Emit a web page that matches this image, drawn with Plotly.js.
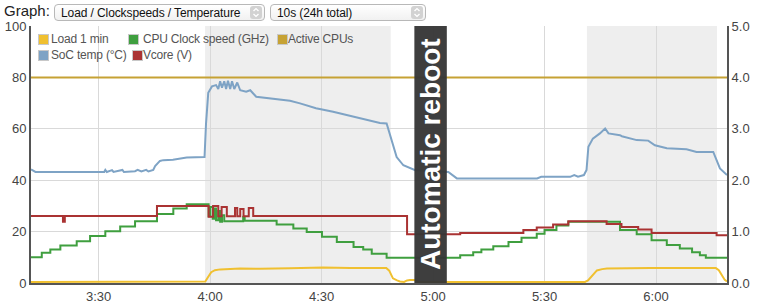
<!DOCTYPE html>
<html><head><meta charset="utf-8">
<script src="https://cdn.plot.ly/plotly-3.0.1.min.js"></script>
<style>
html,body{margin:0;padding:0;background:#fff;}
#wrap{position:relative;width:757px;height:305px;overflow:hidden;font-family:"Liberation Sans",Arial,sans-serif;}
#chart{position:absolute;left:0;top:0;width:757px;height:305px;}
.hdr-lbl{position:absolute;left:4px;top:2px;font-size:15px;color:#222;}
.sel{position:absolute;top:4px;height:17px;border:1px solid #b8b8b8;border-radius:4px;background:linear-gradient(#ffffff,#f1f1f1);font-size:12px;letter-spacing:-0.1px;line-height:16px;color:#111;padding-left:6px;box-sizing:border-box;white-space:nowrap;}
.sel svg{position:absolute;right:2px;top:1px;}
.lg-sq{position:absolute;width:9px;height:9px;border:1px solid #c8c8c8;}
.lg-tx{position:absolute;font-size:12px;letter-spacing:-0.2px;color:#545454;white-space:nowrap;line-height:14px;}
</style></head>
<body>
<div id="wrap">
  <div id="chart"></div>
  <div class="hdr-lbl">Graph:</div>
  <div class="sel" id="sel1" style="left:54px;width:211px;"></div>
  <div class="sel" id="sel2" style="left:270px;width:156px;"></div>
  <div id="legend"></div>
</div>
<script>
// ---------- data (time in minutes after midnight) ----------
const seriesNames  = ["Load 1 min", "CPU Clock speed (GHz)", "Active CPUs", "SoC temp (°C)", "Vcore (V)"];
const seriesColors = ["#f0c030", "#3f9f3f", "#c6a234", "#7ea3c5", "#aa3333"];

const loadTime = [191.8,237.3,238.7,239.5,240.3,241.3,242.7,248.1,253.5,261.5,270.4,277.7,285.7,287.4,288.2,289.2,290.3,291.1,292.2,293.0,293.8,294.9,296.0,340.9,341.7,342.8,344.1,345.5,346.8,358.4,371.8,376.1,376.9,377.7,378.5,379.1];
const loadVal  = [0.02,0.02,0.03,0.12,0.21,0.25,0.265,0.28,0.275,0.285,0.30,0.29,0.30,0.29,0.24,0.09,0.05,0.03,0.02,0.05,0.06,0.06,0.02,0.02,0.05,0.15,0.245,0.27,0.28,0.29,0.29,0.29,0.25,0.15,0.06,0.03];

const clockTime = [191.8,194.7,197.0,199.7,204.1,207.7,211.8,215.8,219.8,225.7,230.1,233.7,239.6,240.0,240.7,241.1,241.6,242.2,242.7,243.2,243.8,248.9,249.3,257.9,262.4,266.0,270.1,274.1,278.6,281.2,283.5,287.5,307.3,310.8,313.0,316.2,320.3,323.8,327.9,330.0,333.2,336.4,350.3,354.8,358.8,362.9,366.4,369.7,371.8,373.4,379.1];
const clockVal  = [0.50,0.59,0.65,0.73,0.81,0.915,1.007,1.10,1.20,1.34,1.45,1.53,1.30,1.48,1.25,1.45,1.22,1.40,1.19,1.32,1.20,1.29,1.21,1.14,1.06,0.99,0.90,0.80,0.70,0.65,0.57,0.49,0.54,0.60,0.65,0.715,0.80,0.88,0.96,1.03,1.12,1.19,1.03,0.95,0.83,0.74,0.67,0.60,0.54,0.49,0.49];

const activeTime = [191.8,379.1];
const activeVal  = [4,4];

const tempTime = [191.8,193.0,211.5,211.8,212.2,213.6,214.0,216.4,216.8,219.8,220.5,221.5,222.8,223.4,224.7,225.2,226.5,227.4,230.0,233.7,238.5,238.9,239.5,240.5,241.6,242.2,242.7,243.2,243.8,244.3,244.8,245.4,245.9,246.5,247.3,248.1,249.7,250.8,252.4,257.8,261.5,264.2,268.5,273.1,277.7,282.0,285.7,287.5,288.4,290.2,292.0,293.8,295.2,304.1,306.4,328.0,329.1,336.9,338.0,339.0,340.6,341.3,341.8,343.0,344.9,346.3,347.2,350.3,350.8,354.8,357.9,359.7,362.9,368.2,370.9,375.4,376.3,377.2,379.1];
const tempVal  = [44.2,43.2,43.2,44.0,43.2,43.9,43.2,44.0,43.2,43.5,44.0,43.4,44.0,43.4,44.0,45.5,47.5,47.8,48.0,48.8,49.0,62.0,74.0,76.5,77.0,75.5,78.5,76.0,78.5,75.5,78.7,75.5,78.5,75.5,78.0,75.0,74.4,75.0,72.5,71.4,70.9,69.9,68.0,66.6,65.0,63.4,62.3,62.1,58.0,49.0,45.8,44.6,43.9,43.2,40.7,40.7,41.3,41.3,42.0,41.4,42.0,44.0,53.0,56.2,58.2,60.1,58.2,57.5,57.1,55.6,55.4,53.6,52.4,52.0,51.0,51.0,47.8,44.6,42.0];

const vcoreTime = [191.8,200.4,200.9,225.7,239.6,240.8,242.2,243.1,244.5,246.7,247.3,248.1,249.0,250.4,251.6,293.0,307.3,324.3,327.9,332.3,336.4,346.7,350.7,355.2,358.8,376.3,379.1];
const vcoreVal  = [1.305,1.19,1.305,1.50,1.29,1.50,1.30,1.48,1.30,1.46,1.30,1.44,1.30,1.46,1.305,0.95,0.975,1.03,1.08,1.14,1.20,1.15,1.09,1.04,0.975,0.93,0.93];

// highlighted periods and reboot window (minutes)
const shadeStart = [238.65, 341.4];
const shadeEnd   = [288.6, 376.4];
const rebootStart = 294.97, rebootEnd = 303.7;
const rebootLabel = "Automatic reboot";

const axisStart = 191.8, axisEnd = 379.1, firstTick = 210;
const headerOptions = ["Load / Clockspeeds / Temperature", "10s (24h total)"];

// ---------- helpers ----------
function pad(n){return (n<10?"0":"")+n;}
function toDate(m){
  const s = Math.round(m*60);
  const h = Math.floor(s/3600), mi = Math.floor((s%3600)/60), se = s%60;
  return "2016-05-01 " + pad(h)+":"+pad(mi)+":"+pad(se);
}
const D = a => a.map(toDate);

// ---------- header ----------
const arrowSvg = '<svg width="12" height="13" viewBox="0 0 12 13"><rect x="0" y="0" width="12" height="13" rx="3" fill="#d2d2d2"/><path d="M3.5 5 L6 2.6 L8.5 5" stroke="#fff" stroke-width="1.4" fill="none"/><path d="M3.5 8 L6 10.4 L8.5 8" stroke="#fff" stroke-width="1.4" fill="none"/></svg>';
document.getElementById("sel1").innerHTML = headerOptions[0] + arrowSvg;
document.getElementById("sel2").innerHTML = headerOptions[1] + arrowSvg;

// ---------- legend ----------
const lgSq = [[38,34],[128,34],[277,34],[38,50],[132,50]];
const lgTx = [[51,32],[143,32],[288,32],[51,48],[143,48]];
let lg = "";
seriesNames.forEach((n,i)=>{
  lg += '<div class="lg-sq" style="left:'+lgSq[i][0]+'px;top:'+lgSq[i][1]+'px;background:'+seriesColors[i]+'"></div>';
  lg += '<div class="lg-tx" style="left:'+lgTx[i][0]+'px;top:'+lgTx[i][1]+'px">'+n+'</div>';
});
document.getElementById("legend").innerHTML = lg;

// ---------- traces ----------
const traces = [
  {x:D(loadTime),  y:loadVal,  yaxis:"y2", name:seriesNames[0], mode:"lines", line:{color:seriesColors[0],width:2}},
  {x:D(clockTime), y:clockVal, yaxis:"y2", name:seriesNames[1], mode:"lines", line:{color:seriesColors[1],width:2,shape:"hv"}},
  {x:D(activeTime),y:activeVal,yaxis:"y2", name:seriesNames[2], mode:"lines", line:{color:seriesColors[2],width:2}},
  {x:D(tempTime),  y:tempVal,  yaxis:"y",  name:seriesNames[3], mode:"lines", line:{color:seriesColors[3],width:2}},
  {x:D(vcoreTime), y:vcoreVal, yaxis:"y2", name:seriesNames[4], mode:"lines", line:{color:seriesColors[4],width:2,shape:"hv"}}
];

const shapes = shadeStart.map((s,i)=>({type:"rect", xref:"x", yref:"paper", x0:toDate(s), x1:toDate(shadeEnd[i]), y0:0, y1:1, fillcolor:"#eeeeee", line:{width:0}, layer:"below"}));
shapes.push({type:"rect", xref:"x", yref:"paper", x0:toDate(rebootStart), x1:toDate(rebootEnd), y0:0, y1:1, fillcolor:"#363636", opacity:0.96, line:{width:0}, layer:"above"});

const layout = {
  width:757, height:305,
  margin:{l:31, r:30, t:26, b:22, pad:0},
  paper_bgcolor:"rgba(0,0,0,0)", plot_bgcolor:"#ffffff",
  showlegend:false,
  font:{family:"Liberation Sans, Arial, sans-serif", size:13, color:"#444"},
  xaxis:{type:"date", range:[toDate(axisStart), toDate(axisEnd)], tick0:toDate(firstTick), dtick:1800000,
         tickformat:"%-H:%M", showgrid:true, gridcolor:"#d9d9d9", gridwidth:1,
         showline:true, linecolor:"#555", linewidth:2, ticks:"", zeroline:false, fixedrange:true},
  yaxis:{range:[0,100], dtick:20, showgrid:true, gridcolor:"#d9d9d9", gridwidth:1,
         showline:true, linecolor:"#555", linewidth:2, ticks:"", zeroline:false, fixedrange:true},
  yaxis2:{overlaying:"y", side:"right", range:[0,5], dtick:1, tickformat:".1f", showgrid:false,
          showline:true, linecolor:"#555", linewidth:2, ticks:"", zeroline:false, fixedrange:true},
  shapes:shapes,
  annotations:[{xref:"x", yref:"paper", x:toDate((rebootStart+rebootEnd)/2), y:0.5, text:rebootLabel,
                textangle:-90, showarrow:false, font:{family:"Liberation Sans, Arial, sans-serif", size:28, color:"#ffffff", weight:"bold"}}]
};

Plotly.newPlot("chart", traces, layout, {displayModeBar:false, staticPlot:true});
</script>
</body></html>
